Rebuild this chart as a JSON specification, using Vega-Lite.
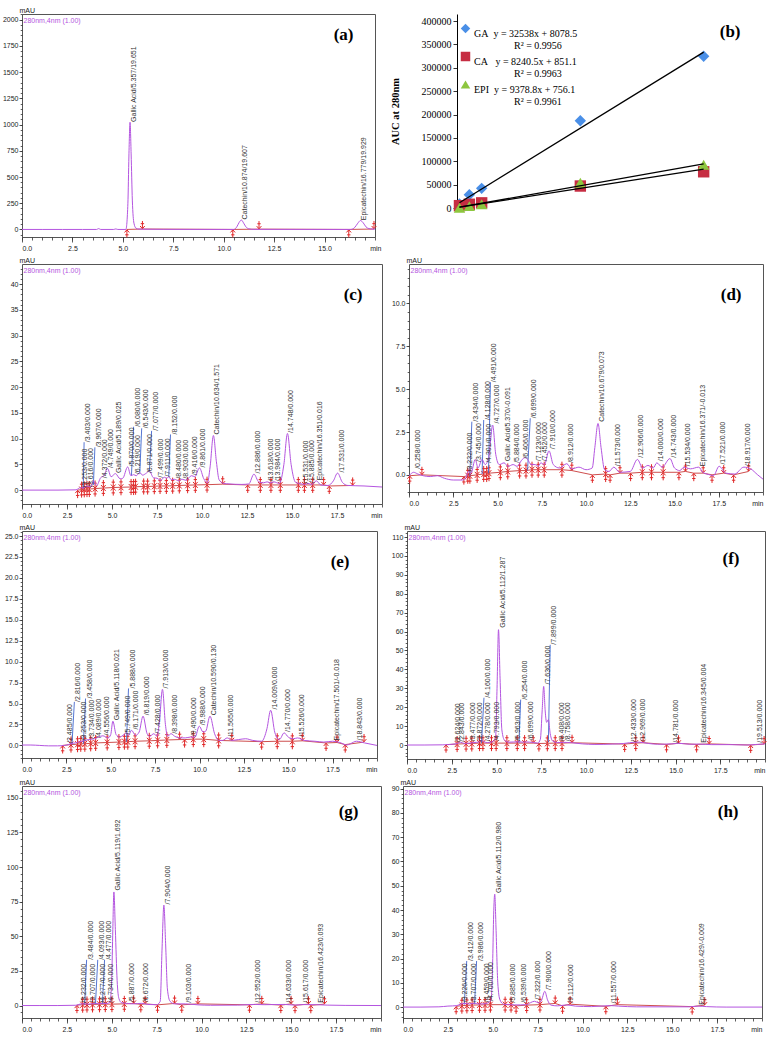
{
"$schema": "https://vega.github.io/schema/vega-lite/v6.json",
"background": "white",
"padding": {"left": 1, "top": 5, "right": 0, "bottom": 0},
"columns": 2,
"align": {"row": "each", "column": "none"},
"spacing": {"row": 3, "column": 5},
"resolve": {"scale": {"shape": "independent", "color": "independent"}, "legend": {"shape": "independent", "color": "independent"}},
"datasets": {
"sg_a": [{"t":0,"v":0},{"t":1,"v":0},{"t":2,"v":0},{"t":3,"v":0},{"t":3.7,"v":0},{"t":3.8,"v":8},{"t":3.9,"v":0},{"t":4.55,"v":0},{"t":4.65,"v":5},{"t":4.75,"v":0},{"t":5.15,"v":0},{"t":5.25,"v":250},{"t":5.3,"v":700},{"t":5.357,"v":1022},{"t":5.41,"v":720},{"t":5.47,"v":280},{"t":5.55,"v":60},{"t":5.65,"v":12},{"t":5.8,"v":3},{"t":7,"v":1},{"t":10.5,"v":0},{"t":10.65,"v":25},{"t":10.76,"v":65},{"t":10.874,"v":90},{"t":10.99,"v":60},{"t":11.1,"v":25},{"t":11.25,"v":6},{"t":11.5,"v":1},{"t":16.3,"v":0},{"t":16.5,"v":20},{"t":16.65,"v":60},{"t":16.779,"v":85},{"t":16.92,"v":62},{"t":17.05,"v":25},{"t":17.2,"v":8},{"t":17.35,"v":4},{"t":17.5,"v":3}],
"mk_a": [{"t":5.2,"v":0,"k":"s"},{"t":5.97,"v":4,"k":"e"},{"t":10.45,"v":0,"k":"s"},{"t":11.75,"v":3,"k":"e"},{"t":16.2,"v":0,"k":"s"},{"t":17.45,"v":4,"k":"e"}],
"lb_a": [{"lx":5.357,"ly":1025,"lab":"Gallic Acid/5.357/19.651"},{"lx":10.874,"ly":95,"lab":"Catechin/10.874/19.607"},{"lx":16.779,"ly":88,"lab":"Epicatechin/16.779/19.929"}],
"cal": [{"s":"GA","x":0.1,"y":8500},{"s":"GA","x":0.5,"y":28500},{"s":"GA","x":1,"y":42000},{"s":"GA","x":5,"y":186500},{"s":"GA","x":10,"y":324500},
{"s":"CA","x":0.1,"y":5000},{"s":"CA","x":0.5,"y":8000},{"s":"CA","x":1,"y":11000},{"s":"CA","x":5,"y":47000},{"s":"CA","x":10,"y":77500},
{"s":"EPI","x":0.1,"y":500},{"s":"EPI","x":0.5,"y":4000},{"s":"EPI","x":1,"y":8000},{"s":"EPI","x":5,"y":54000},{"s":"EPI","x":10,"y":92500}],
"trend": [{"s":"GA","x":0.1,"y":11332},{"s":"GA","x":10,"y":333458},{"s":"CA","x":0.1,"y":1675},{"s":"CA","x":10,"y":83256},{"s":"EPI","x":0.1,"y":1694},{"s":"EPI","x":10,"y":94544}],
"sg_c": [{"t":0,"v":0},{"t":1,"v":0},{"t":2,"v":0},{"t":3,"v":0.05},{"t":3.25,"v":0.5},{"t":3.4,"v":0.4},{"t":3.6,"v":0.8},{"t":3.8,"v":0.6},{"t":3.97,"v":1.8},{"t":4.15,"v":0.9},{"t":4.37,"v":2.4},{"t":4.55,"v":2.8},{"t":4.75,"v":4.2},{"t":4.95,"v":2.6},{"t":5.19,"v":3.2},{"t":5.45,"v":2.2},{"t":5.6,"v":2.3},{"t":5.87,"v":4.5},{"t":6.05,"v":2.8},{"t":6.2,"v":3.0},{"t":6.35,"v":2.8},{"t":6.54,"v":3.4},{"t":6.7,"v":2.9},{"t":6.87,"v":3.2},{"t":7.08,"v":3.7},{"t":7.3,"v":2.4},{"t":7.5,"v":2.3},{"t":7.7,"v":1.9},{"t":7.91,"v":2.5},{"t":8.05,"v":2.3},{"t":8.15,"v":2.6},{"t":8.3,"v":2.0},{"t":8.48,"v":2.1},{"t":8.7,"v":1.8},{"t":8.9,"v":2.1},{"t":9.1,"v":1.9},{"t":9.42,"v":2.8},{"t":9.6,"v":2.6},{"t":9.86,"v":4.3},{"t":10.1,"v":2.2},{"t":10.3,"v":1.4},{"t":10.45,"v":4.5},{"t":10.634,"v":10.6},{"t":10.8,"v":5.5},{"t":10.95,"v":2.0},{"t":11.2,"v":1.3},{"t":11.5,"v":1.2},{"t":12.2,"v":1.1},{"t":12.6,"v":1.2},{"t":12.886,"v":3.1},{"t":13.15,"v":1.6},{"t":13.4,"v":1.4},{"t":13.618,"v":1.6},{"t":13.8,"v":1.4},{"t":13.984,"v":1.6},{"t":14.3,"v":1.3},{"t":14.55,"v":5},{"t":14.748,"v":11.0},{"t":14.95,"v":5},{"t":15.2,"v":1.5},{"t":15.531,"v":1.2},{"t":15.7,"v":1.1},{"t":15.885,"v":1.3},{"t":16.1,"v":1.1},{"t":16.351,"v":1.8},{"t":16.6,"v":1.0},{"t":17.0,"v":0.9},{"t":17.3,"v":1.8},{"t":17.531,"v":3.3},{"t":17.8,"v":1.5},{"t":18.1,"v":0.9},{"t":19,"v":0.8},{"t":20,"v":0.6}],
"mk_c": [{"t":3.09,"v":0.0,"k":"s"},{"t":3.31,"v":0.1,"k":"b"},{"t":3.46,"v":0.15,"k":"b"},{"t":3.61,"v":0.2,"k":"b"},{"t":3.74,"v":0.2,"k":"b"},{"t":4.06,"v":0.3,"k":"b"},{"t":4.52,"v":0.4,"k":"b"},{"t":5.07,"v":0.5,"k":"b"},{"t":5.5,"v":0.55,"k":"b"},{"t":6.06,"v":0.6,"k":"b"},{"t":6.2,"v":0.6,"k":"b"},{"t":6.31,"v":0.65,"k":"b"},{"t":6.76,"v":0.7,"k":"b"},{"t":6.98,"v":0.7,"k":"b"},{"t":7.35,"v":0.75,"k":"b"},{"t":7.67,"v":0.8,"k":"b"},{"t":8.02,"v":0.8,"k":"b"},{"t":8.37,"v":0.85,"k":"b"},{"t":8.74,"v":0.9,"k":"b"},{"t":9.2,"v":0.95,"k":"b"},{"t":9.63,"v":1.0,"k":"b"},{"t":10.28,"v":1.05,"k":"b"},{"t":11.15,"v":1.15,"k":"e"},{"t":12.54,"v":1.0,"k":"s"},{"t":13.24,"v":1.0,"k":"b"},{"t":13.83,"v":1.0,"k":"b"},{"t":14.35,"v":1.0,"k":"b"},{"t":15.35,"v":1.0,"k":"b"},{"t":15.69,"v":1.0,"k":"b"},{"t":16.15,"v":1.0,"k":"b"},{"t":16.76,"v":1.0,"k":"e"},{"t":17.07,"v":0.8,"k":"s"},{"t":18.37,"v":0.9,"k":"e"}],
"lb_c": [{"lx":3.253,"ly":0.5,"lab":"/3.253/0.000"},{"rt":3.403,"b":0.3,"lx":3.45,"ly":9.3,"lab":"/3.403/0.000"},{"lx":3.616,"ly":0.6,"lab":"/3.616/0.000"},{"rt":3.967,"b":1.0,"lx":4.05,"ly":8.3,"lab":"/3.967/0.000"},{"lx":4.372,"ly":2.3,"lab":"/4.372/0.000"},{"lx":4.749,"ly":4.3,"lab":"/4.749/0.000"},{"lx":5.189,"ly":3.3,"lab":"Gallic Acid/5.189/0.025"},{"lx":5.87,"ly":4.6,"lab":"/5.870/0.000"},{"rt":6.08,"b":2.8,"lx":6.2,"ly":12.3,"lab":"/6.080/0.000"},{"lx":6.219,"ly":3.1,"lab":"/6.219/0.000"},{"rt":6.543,"b":3.3,"lx":6.65,"ly":12.0,"lab":"/6.543/0.000"},{"lx":6.871,"ly":3.3,"lab":"/6.871/0.000"},{"rt":7.077,"b":3.6,"lx":7.2,"ly":11.5,"lab":"/7.077/0.000"},{"lx":7.499,"ly":2.4,"lab":"/7.499/0.000"},{"lx":7.911,"ly":2.6,"lab":"/7.911/0.000"},{"rt":8.152,"b":2.6,"lx":8.25,"ly":10.8,"lab":"/8.152/0.000"},{"lx":8.48,"ly":2.2,"lab":"/8.480/0.000"},{"lx":8.903,"ly":2.2,"lab":"/8.903/0.000"},{"lx":9.416,"ly":2.9,"lab":"/9.416/0.000"},{"lx":9.861,"ly":4.4,"lab":"/9.861/0.000"},{"lx":10.634,"ly":10.8,"lab":"Catechin/10.634/1.571"},{"lx":12.886,"ly":3.2,"lab":"/12.886/0.000"},{"lx":13.618,"ly":1.7,"lab":"/13.618/0.000"},{"lx":13.984,"ly":1.7,"lab":"/13.984/0.000"},{"lx":14.748,"ly":11.1,"lab":"/14.748/0.000"},{"lx":15.531,"ly":1.3,"lab":"/15.531/0.000"},{"lx":15.885,"ly":1.4,"lab":"/15.885/0.000"},{"lx":16.351,"ly":1.9,"lab":"Epicatechin/16.351/0.016"},{"lx":17.531,"ly":3.4,"lab":"/17.531/0.000"}],
"sg_d": [{"t":0,"v":-0.05},{"t":0.1,"v":0.05},{"t":0.26,"v":0.15},{"t":0.5,"v":0.05},{"t":0.8,"v":-0.05},{"t":1.2,"v":-0.1},{"t":1.6,"v":-0.05},{"t":2.0,"v":-0.2},{"t":2.5,"v":-0.3},{"t":3.0,"v":-0.3},{"t":3.2,"v":-0.2},{"t":3.35,"v":0.2},{"t":3.5,"v":0.1},{"t":3.745,"v":0.9},{"t":3.9,"v":0.4},{"t":4.128,"v":0.9},{"t":4.3,"v":0.6},{"t":4.5,"v":1.0},{"t":4.727,"v":2.9},{"t":4.9,"v":1.2},{"t":5.1,"v":0.6},{"t":5.37,"v":0.7},{"t":5.6,"v":0.5},{"t":5.884,"v":0.6},{"t":6.1,"v":0.5},{"t":6.4,"v":0.9},{"t":6.55,"v":1.0},{"t":6.699,"v":0.9},{"t":6.9,"v":0.6},{"t":7.123,"v":0.6},{"t":7.3,"v":0.5},{"t":7.452,"v":0.7},{"t":7.65,"v":0.6},{"t":7.91,"v":1.4},{"t":8.15,"v":0.6},{"t":8.5,"v":0.4},{"t":8.912,"v":0.65},{"t":9.2,"v":0.35},{"t":9.6,"v":0.45},{"t":10.0,"v":0.3},{"t":10.35,"v":0.4},{"t":10.5,"v":1.6},{"t":10.679,"v":3.0},{"t":10.85,"v":1.6},{"t":11.05,"v":0.3},{"t":11.3,"v":0.2},{"t":11.573,"v":0.45},{"t":11.9,"v":0.15},{"t":12.5,"v":0.2},{"t":12.906,"v":0.9},{"t":13.2,"v":0.4},{"t":13.5,"v":0.55},{"t":13.8,"v":0.4},{"t":14.0,"v":0.7},{"t":14.3,"v":0.45},{"t":14.743,"v":0.95},{"t":15.0,"v":0.4},{"t":15.3,"v":0.25},{"t":15.534,"v":0.45},{"t":15.9,"v":0.35},{"t":16.371,"v":0.45},{"t":16.6,"v":0.15},{"t":17.0,"v":0.0},{"t":17.2,"v":-0.05},{"t":17.521,"v":0.5},{"t":17.9,"v":0.1},{"t":18.4,"v":0.05},{"t":18.917,"v":0.45},{"t":19.3,"v":0.35},{"t":19.7,"v":0.0},{"t":20,"v":-0.25}],
"mk_d": [{"t":0.04,"v":-0.05,"k":"s"},{"t":0.73,"v":0.0,"k":"e"},{"t":3.1,"v":-0.1,"k":"s"},{"t":3.32,"v":-0.05,"k":"b"},{"t":3.44,"v":-0.05,"k":"b"},{"t":3.85,"v":0.0,"k":"b"},{"t":4.22,"v":0.05,"k":"b"},{"t":4.39,"v":0.05,"k":"b"},{"t":4.52,"v":0.1,"k":"b"},{"t":5.16,"v":0.15,"k":"b"},{"t":5.58,"v":0.2,"k":"b"},{"t":6.25,"v":0.25,"k":"b"},{"t":6.61,"v":0.25,"k":"b"},{"t":6.95,"v":0.3,"k":"b"},{"t":7.3,"v":0.3,"k":"b"},{"t":7.64,"v":0.3,"k":"b"},{"t":8.64,"v":0.3,"k":"b"},{"t":9.2,"v":0.25,"k":"e"},{"t":10.36,"v":0.0,"k":"s"},{"t":11.11,"v":0.05,"k":"b"},{"t":11.36,"v":0.0,"k":"s"},{"t":11.92,"v":0.1,"k":"e"},{"t":12.52,"v":0.1,"k":"s"},{"t":13.18,"v":0.15,"k":"b"},{"t":13.7,"v":0.15,"k":"b"},{"t":14.36,"v":0.15,"k":"b"},{"t":15.25,"v":0.15,"k":"s"},{"t":15.62,"v":0.2,"k":"e"},{"t":16.09,"v":0.1,"k":"s"},{"t":16.62,"v":0.1,"k":"e"},{"t":17.12,"v":0.0,"k":"s"},{"t":17.78,"v":0.1,"k":"e"},{"t":18.34,"v":0.0,"k":"s"},{"t":19.19,"v":0.2,"k":"e"}],
"lb_d": [{"lx":0.258,"ly":0.35,"lab":"/0.258/0.000"},{"lx":3.232,"ly":0.2,"lab":"/3.232/0.000"},{"rt":3.434,"b":-0.1,"lx":3.55,"ly":3.1,"lab":"/3.434/0.000"},{"lx":3.745,"ly":0.75,"lab":"/3.745/0.000"},{"rt":4.128,"b":0.05,"lx":4.22,"ly":3.2,"lab":"/4.128/0.000"},{"lx":4.301,"ly":0.7,"lab":"/4.301/0.000"},{"rt":4.491,"b":0.1,"lx":4.6,"ly":5.4,"lab":"/4.491/0.000"},{"lx":4.727,"ly":3.0,"lab":"/4.727/0.000"},{"lx":5.37,"ly":0.8,"lab":"Gallic Acid/5.370/-0.091"},{"lx":5.884,"ly":0.7,"lab":"/5.884/0.000"},{"lx":6.406,"ly":0.95,"lab":"/6.406/0.000"},{"rt":6.699,"b":0.25,"lx":6.85,"ly":3.3,"lab":"/6.699/0.000"},{"lx":7.123,"ly":0.8,"lab":"/7.123/0.000"},{"lx":7.452,"ly":0.8,"lab":"/7.452/0.000"},{"lx":7.91,"ly":1.5,"lab":"/7.910/0.000"},{"lx":8.912,"ly":0.7,"lab":"/8.912/0.000"},{"lx":10.679,"ly":3.1,"lab":"Catechin/10.679/0.073"},{"lx":11.573,"ly":0.5,"lab":"/11.573/0.000"},{"lx":12.906,"ly":1.0,"lab":"/12.906/0.000"},{"lx":14.0,"ly":0.8,"lab":"/14.000/0.000"},{"lx":14.743,"ly":1.0,"lab":"/14.743/0.000"},{"lx":15.534,"ly":0.5,"lab":"/15.534/0.000"},{"lx":16.371,"ly":0.5,"lab":"Epicatechin/16.371/-0.013"},{"lx":17.521,"ly":0.6,"lab":"/17.521/0.000"},{"lx":18.917,"ly":0.5,"lab":"/18.917/0.000"}],
"sg_e": [{"t":0,"v":0.05},{"t":0.5,"v":0.05},{"t":1.0,"v":0.0},{"t":1.5,"v":-0.05},{"t":2.0,"v":-0.05},{"t":2.4,"v":0.0},{"t":2.6,"v":0.1},{"t":2.816,"v":0.25},{"t":3.0,"v":0.3},{"t":3.253,"v":0.45},{"t":3.458,"v":0.55},{"t":3.734,"v":0.7},{"t":4.089,"v":0.8},{"t":4.3,"v":1.0},{"t":4.556,"v":1.15},{"t":4.85,"v":0.9},{"t":5.0,"v":1.3},{"t":5.118,"v":2.9},{"t":5.3,"v":1.3},{"t":5.5,"v":1.0},{"t":5.749,"v":1.3},{"t":5.888,"v":1.5},{"t":6.0,"v":1.2},{"t":6.171,"v":1.8},{"t":6.4,"v":1.2},{"t":6.6,"v":1.6},{"t":6.819,"v":3.5},{"t":7.05,"v":1.4},{"t":7.2,"v":1.1},{"t":7.428,"v":1.4},{"t":7.6,"v":1.1},{"t":7.75,"v":3.0},{"t":7.913,"v":6.7},{"t":8.08,"v":2.5},{"t":8.2,"v":1.1},{"t":8.398,"v":1.4},{"t":8.6,"v":1.1},{"t":8.9,"v":0.9},{"t":9.2,"v":0.9},{"t":9.49,"v":1.0},{"t":9.75,"v":1.0},{"t":9.988,"v":2.3},{"t":10.2,"v":1.6},{"t":10.35,"v":1.7},{"t":10.59,"v":3.5},{"t":10.85,"v":1.4},{"t":11.1,"v":0.6},{"t":11.3,"v":0.6},{"t":11.565,"v":0.9},{"t":11.8,"v":0.6},{"t":12.2,"v":0.7},{"t":12.6,"v":0.8},{"t":13.0,"v":0.6},{"t":13.5,"v":0.5},{"t":13.8,"v":2.0},{"t":14.009,"v":4.2},{"t":14.25,"v":1.5},{"t":14.5,"v":0.7},{"t":14.77,"v":1.5},{"t":15.0,"v":1.0},{"t":15.3,"v":0.8},{"t":15.526,"v":0.9},{"t":15.9,"v":0.6},{"t":16.5,"v":0.5},{"t":17.0,"v":0.4},{"t":17.501,"v":0.5},{"t":17.9,"v":0.35},{"t":18.3,"v":0.05},{"t":18.5,"v":0.2},{"t":18.843,"v":0.5},{"t":19.3,"v":0.3},{"t":20,"v":0.0}],
"mk_e": [{"t":2.29,"v":0.0,"k":"s"},{"t":2.76,"v":0.1,"k":"b"},{"t":3.13,"v":0.15,"k":"b"},{"t":3.31,"v":0.2,"k":"b"},{"t":3.54,"v":0.2,"k":"b"},{"t":3.87,"v":0.25,"k":"b"},{"t":4.15,"v":0.3,"k":"b"},{"t":4.8,"v":0.35,"k":"b"},{"t":5.46,"v":0.4,"k":"b"},{"t":5.77,"v":0.45,"k":"b"},{"t":5.96,"v":0.45,"k":"b"},{"t":6.37,"v":0.5,"k":"b"},{"t":7.17,"v":0.55,"k":"b"},{"t":7.64,"v":0.6,"k":"b"},{"t":8.16,"v":0.65,"k":"b"},{"t":8.88,"v":0.7,"k":"e"},{"t":9.16,"v":0.7,"k":"s"},{"t":9.65,"v":0.75,"k":"b"},{"t":10.24,"v":0.75,"k":"b"},{"t":11.08,"v":0.6,"k":"b"},{"t":11.82,"v":0.55,"k":"e"},{"t":13.5,"v":0.45,"k":"s"},{"t":14.38,"v":0.5,"k":"b"},{"t":15.23,"v":0.5,"k":"b"},{"t":15.79,"v":0.55,"k":"e"},{"t":17.13,"v":0.3,"k":"s"},{"t":17.75,"v":0.35,"k":"e"},{"t":18.21,"v":0.1,"k":"s"},{"t":19.27,"v":0.4,"k":"e"}],
"lb_e": [{"lx":2.485,"ly":0.3,"lab":"/2.485/0.000"},{"rt":2.816,"b":0.1,"lx":2.95,"ly":5.2,"lab":"/2.816/0.000"},{"lx":3.253,"ly":0.6,"lab":"/3.253/0.000"},{"rt":3.458,"b":0.2,"lx":3.58,"ly":5.6,"lab":"/3.458/0.000"},{"lx":3.734,"ly":0.8,"lab":"/3.734/0.000"},{"lx":4.089,"ly":0.9,"lab":"/4.089/0.000"},{"lx":4.556,"ly":1.2,"lab":"/4.556/0.000"},{"lx":5.118,"ly":3.0,"lab":"Gallic Acid/5.118/0.021"},{"lx":5.749,"ly":1.3,"lab":"/5.749/0.000"},{"rt":5.888,"b":0.45,"lx":6.0,"ly":6.8,"lab":"/5.888/0.000"},{"lx":6.171,"ly":1.9,"lab":"/6.171/0.000"},{"lx":6.819,"ly":3.6,"lab":"/6.819/0.000"},{"lx":7.428,"ly":1.4,"lab":"/7.428/0.000"},{"lx":7.913,"ly":6.8,"lab":"/7.913/0.000"},{"lx":8.398,"ly":1.4,"lab":"/8.398/0.000"},{"lx":9.49,"ly":1.1,"lab":"/9.490/0.000"},{"lx":9.988,"ly":2.4,"lab":"/9.988/0.000"},{"lx":10.59,"ly":3.6,"lab":"Catechin/10.590/0.130"},{"lx":11.565,"ly":1.0,"lab":"/11.565/0.000"},{"lx":14.009,"ly":4.3,"lab":"/14.009/0.000"},{"lx":14.77,"ly":1.6,"lab":"/14.770/0.000"},{"lx":15.526,"ly":1.0,"lab":"/15.526/0.000"},{"lx":17.501,"ly":0.6,"lab":"Epicatechin/17.501/-0.018"},{"lx":18.843,"ly":0.6,"lab":"/18.843/0.000"}],
"sg_f": [{"t":0,"v":0},{"t":1,"v":0},{"t":2,"v":0.1},{"t":2.624,"v":0.5},{"t":2.843,"v":0.9},{"t":3.0,"v":1.5},{"t":3.2,"v":0.8},{"t":3.477,"v":1.0},{"t":3.872,"v":1.4},{"t":4.0,"v":1.5},{"t":4.16,"v":2.6},{"t":4.278,"v":1.8},{"t":4.5,"v":1.3},{"t":4.793,"v":1.8},{"t":4.95,"v":4},{"t":5.03,"v":30},{"t":5.112,"v":61},{"t":5.2,"v":35},{"t":5.3,"v":8},{"t":5.45,"v":2.5},{"t":5.7,"v":1.5},{"t":5.963,"v":1.6},{"t":6.254,"v":1.7},{"t":6.5,"v":1.5},{"t":6.699,"v":1.6},{"t":7.0,"v":1.4},{"t":7.3,"v":1.0},{"t":7.45,"v":3},{"t":7.55,"v":18},{"t":7.636,"v":31},{"t":7.72,"v":18},{"t":7.8,"v":12},{"t":7.899,"v":13.5},{"t":8.0,"v":6},{"t":8.15,"v":2},{"t":8.408,"v":1.3},{"t":8.758,"v":1.4},{"t":9.2,"v":1.2},{"t":9.8,"v":0.6},{"t":10.5,"v":0.3},{"t":11.5,"v":0.5},{"t":12.1,"v":0.8},{"t":12.433,"v":1.2},{"t":12.969,"v":1.5},{"t":13.5,"v":0.8},{"t":14.0,"v":0.4},{"t":14.781,"v":0.6},{"t":15.2,"v":0.9},{"t":15.8,"v":0.4},{"t":16.345,"v":0.5},{"t":17,"v":0.2},{"t":18,"v":0.2},{"t":19,"v":0.0},{"t":19.513,"v":0.3},{"t":20,"v":0.6}],
"mk_f": [{"t":2.18,"v":0.2,"k":"s"},{"t":2.8,"v":0.5,"k":"b"},{"t":3.3,"v":0.7,"k":"b"},{"t":3.62,"v":0.8,"k":"b"},{"t":4.05,"v":1.0,"k":"b"},{"t":4.24,"v":1.0,"k":"b"},{"t":4.72,"v":1.0,"k":"b"},{"t":4.98,"v":1.0,"k":"b"},{"t":5.58,"v":1.0,"k":"b"},{"t":6.16,"v":1.0,"k":"b"},{"t":6.57,"v":1.0,"k":"b"},{"t":7.05,"v":1.0,"k":"e"},{"t":7.37,"v":0.8,"k":"s"},{"t":7.84,"v":0.9,"k":"b"},{"t":8.28,"v":1.0,"k":"b"},{"t":8.66,"v":1.0,"k":"b"},{"t":9.22,"v":1.2,"k":"e"},{"t":12.16,"v":0.5,"k":"s"},{"t":12.78,"v":1.0,"k":"b"},{"t":13.19,"v":1.2,"k":"e"},{"t":14.5,"v":0.3,"k":"s"},{"t":15.17,"v":0.9,"k":"e"},{"t":16.18,"v":0.3,"k":"s"},{"t":16.88,"v":0.6,"k":"e"},{"t":19.2,"v":0.0,"k":"s"},{"t":19.95,"v":0.5,"k":"e"}],
"lb_f": [{"lx":2.624,"ly":1.5,"lab":"/2.624/0.000"},{"lx":2.843,"ly":1.7,"lab":"/2.843/0.000"},{"lx":3.477,"ly":2.0,"lab":"/3.477/0.000"},{"lx":3.872,"ly":2.0,"lab":"/3.872/0.000"},{"rt":4.16,"b":1.0,"lx":4.3,"ly":25,"lab":"/4.160/0.000"},{"lx":4.278,"ly":2.0,"lab":"/4.278/0.000"},{"lx":4.793,"ly":2.2,"lab":"/4.793/0.000"},{"lx":5.112,"ly":62,"lab":"Gallic Acid/5.112/1.287"},{"lx":5.963,"ly":2.2,"lab":"/5.963/0.000"},{"rt":6.254,"b":1.0,"lx":6.35,"ly":24,"lab":"/6.254/0.000"},{"lx":6.699,"ly":2.5,"lab":"/6.699/0.000"},{"lx":7.636,"ly":32,"lab":"/7.636/0.000"},{"rt":7.899,"b":1.5,"lx":8.0,"ly":53,"lab":"/7.899/0.000"},{"lx":8.408,"ly":2.0,"lab":"/8.408/0.000"},{"lx":8.758,"ly":2.0,"lab":"/8.758/0.000"},{"lx":12.433,"ly":1.6,"lab":"/12.433/0.000"},{"lx":12.969,"ly":1.8,"lab":"/12.969/0.000"},{"lx":14.781,"ly":1.2,"lab":"/14.781/0.000"},{"lx":16.345,"ly":1.2,"lab":"Epicatechin/16.345/0.004"},{"lx":19.513,"ly":1.2,"lab":"/19.513/0.000"}],
"sg_g": [{"t":0,"v":0},{"t":1,"v":0},{"t":2,"v":0},{"t":3.0,"v":0.2},{"t":3.232,"v":1.0},{"t":3.484,"v":1.3},{"t":3.707,"v":1.0},{"t":4.093,"v":1.5},{"t":4.277,"v":1.3},{"t":4.477,"v":1.5},{"t":4.734,"v":1.5},{"t":4.9,"v":2.5},{"t":5.0,"v":20},{"t":5.06,"v":55},{"t":5.119,"v":82},{"t":5.2,"v":55},{"t":5.3,"v":18},{"t":5.4,"v":5},{"t":5.55,"v":2},{"t":5.887,"v":1.5},{"t":6.2,"v":1.2},{"t":6.672,"v":1.6},{"t":7.0,"v":0.8},{"t":7.5,"v":0.6},{"t":7.7,"v":3},{"t":7.8,"v":40},{"t":7.904,"v":72.5},{"t":8.0,"v":45},{"t":8.1,"v":12},{"t":8.25,"v":3},{"t":8.5,"v":1.2},{"t":9.103,"v":1.2},{"t":9.8,"v":0.5},{"t":10.5,"v":0.2},{"t":12.0,"v":0.3},{"t":12.952,"v":0.8},{"t":13.5,"v":0.6},{"t":14.633,"v":0.8},{"t":15.2,"v":0.3},{"t":15.617,"v":0.7},{"t":16.423,"v":0.6},{"t":17.0,"v":0.3},{"t":18,"v":0.1},{"t":20,"v":0.0}],
"mk_g": [{"t":3.06,"v":0.3,"k":"s"},{"t":3.38,"v":0.6,"k":"b"},{"t":3.62,"v":0.7,"k":"b"},{"t":3.93,"v":0.8,"k":"b"},{"t":4.32,"v":0.9,"k":"b"},{"t":4.64,"v":1.0,"k":"b"},{"t":5.01,"v":1.0,"k":"b"},{"t":5.7,"v":1.2,"k":"b"},{"t":6.22,"v":1.5,"k":"e"},{"t":6.62,"v":0.8,"k":"s"},{"t":6.86,"v":1.2,"k":"e"},{"t":7.55,"v":0.5,"k":"s"},{"t":8.5,"v":1.5,"k":"e"},{"t":8.9,"v":0.5,"k":"s"},{"t":9.8,"v":1.2,"k":"e"},{"t":12.67,"v":0.5,"k":"s"},{"t":13.36,"v":1.2,"k":"e"},{"t":14.42,"v":0.3,"k":"s"},{"t":14.99,"v":1.2,"k":"e"},{"t":15.21,"v":0.2,"k":"s"},{"t":15.96,"v":1.0,"k":"e"},{"t":16.09,"v":0.2,"k":"s"},{"t":16.85,"v":1.0,"k":"e"}],
"lb_g": [{"lx":3.232,"ly":2,"lab":"/3.232/0.000"},{"rt":3.484,"b":0.7,"lx":3.6,"ly":33,"lab":"/3.484/0.000"},{"lx":3.707,"ly":2,"lab":"/3.707/0.000"},{"rt":4.093,"b":0.9,"lx":4.22,"ly":33,"lab":"/4.093/0.000"},{"lx":4.277,"ly":2,"lab":"/4.277/0.000"},{"rt":4.477,"b":1.0,"lx":4.6,"ly":33,"lab":"/4.477/0.000"},{"lx":4.734,"ly":2,"lab":"/4.734/0.000"},{"lx":5.119,"ly":83,"lab":"Gallic Acid/5.119/1.692"},{"lx":5.887,"ly":2.5,"lab":"/5.887/0.000"},{"lx":6.672,"ly":2.5,"lab":"/6.672/0.000"},{"lx":7.904,"ly":73,"lab":"/7.904/0.000"},{"lx":9.103,"ly":2,"lab":"/9.103/0.000"},{"lx":12.952,"ly":2,"lab":"/12.952/0.000"},{"lx":14.633,"ly":2,"lab":"/14.633/0.000"},{"lx":15.617,"ly":2,"lab":"/15.617/0.000"},{"lx":16.423,"ly":2,"lab":"Epicatechin/16.423/0.093"}],
"sg_h": [{"t":0,"v":0},{"t":1,"v":0},{"t":2,"v":0.1},{"t":2.5,"v":0.4},{"t":3.0,"v":0.6},{"t":3.226,"v":1.3},{"t":3.412,"v":1.5},{"t":3.707,"v":1.3},{"t":3.986,"v":1.6},{"t":4.2,"v":1.3},{"t":4.459,"v":1.3},{"t":4.7,"v":1.6},{"t":4.9,"v":3},{"t":5.0,"v":20},{"t":5.05,"v":38},{"t":5.112,"v":46.5},{"t":5.18,"v":33},{"t":5.28,"v":10},{"t":5.4,"v":3},{"t":5.6,"v":1.2},{"t":5.885,"v":1.0},{"t":6.2,"v":0.9},{"t":6.539,"v":0.9},{"t":6.9,"v":1.0},{"t":7.1,"v":1.8},{"t":7.322,"v":2.4},{"t":7.55,"v":1.8},{"t":7.7,"v":2.5},{"t":7.9,"v":6.5},{"t":8.05,"v":3},{"t":8.25,"v":0.8},{"t":8.6,"v":0.5},{"t":9.112,"v":0.9},{"t":9.6,"v":0.4},{"t":10.5,"v":0.2},{"t":11.557,"v":0.6},{"t":12.0,"v":0.4},{"t":13,"v":0.1},{"t":16.0,"v":0.1},{"t":16.429,"v":0.4},{"t":16.9,"v":0.2},{"t":18,"v":0.0},{"t":20,"v":0.0}],
"mk_h": [{"t":2.96,"v":0.3,"k":"s"},{"t":3.28,"v":0.6,"k":"b"},{"t":3.56,"v":0.7,"k":"b"},{"t":3.85,"v":0.8,"k":"b"},{"t":4.26,"v":0.9,"k":"b"},{"t":4.57,"v":0.9,"k":"b"},{"t":4.87,"v":1.0,"k":"b"},{"t":5.69,"v":1.0,"k":"b"},{"t":6.02,"v":1.0,"k":"b"},{"t":6.3,"v":0.5,"k":"s"},{"t":6.89,"v":0.8,"k":"b"},{"t":7.63,"v":1.0,"k":"b"},{"t":8.48,"v":1.5,"k":"e"},{"t":8.89,"v":0.5,"k":"s"},{"t":9.31,"v":1.2,"k":"e"},{"t":11.3,"v":0.3,"k":"s"},{"t":11.94,"v":1.0,"k":"e"},{"t":16.11,"v":0.2,"k":"s"},{"t":16.81,"v":0.8,"k":"e"}],
"lb_h": [{"lx":3.226,"ly":2,"lab":"/3.226/0.000"},{"rt":3.412,"b":1.0,"lx":3.55,"ly":19,"lab":"/3.412/0.000"},{"lx":3.707,"ly":2,"lab":"/3.707/0.000"},{"rt":3.986,"b":1.2,"lx":4.1,"ly":19,"lab":"/3.986/0.000"},{"lx":4.459,"ly":2,"lab":"/4.459/0.000"},{"lx":4.7,"ly":2.5,"lab":"/4.700/0.000"},{"lx":5.112,"ly":47,"lab":"Gallic Acid/5.112/0.980"},{"lx":5.885,"ly":1.8,"lab":"/5.885/0.000"},{"lx":6.539,"ly":1.8,"lab":"/6.539/0.000"},{"lx":7.322,"ly":3,"lab":"/7.322/0.000"},{"lx":7.9,"ly":7,"lab":"/7.900/0.000"},{"lx":9.112,"ly":1.8,"lab":"/9.112/0.000"},{"lx":11.557,"ly":1.5,"lab":"/11.557/0.000"},{"lx":16.429,"ly":1,"lab":"Epicatechin/16.429/-0.009"}]
},
"concat": [
{"width":353,"height":223,"resolve":{"axis":{"x":"independent","y":"independent"}},
"layer":[
{"data":{"name":"mk_a"},"mark":{"type":"line","color":"#c83a3a","strokeWidth":0.9},
"encoding":{"x":{"field":"t","type":"quantitative","scale":{"domain":[0,17.5],"nice":false,"zero":false},"axis":{"orient":"bottom","values":[0,0.5,1,1.5,2,2.5,3,3.5,4,4.5,5,5.5,6,6.5,7,7.5,8,8.5,9,9.5,10,10.5,11,11.5,12,12.5,13,13.5,14,14.5,15,15.5,16,16.5,17,17.5],"labels":false,"tickSize":3,"title":null}},
"y":{"field":"v","type":"quantitative","scale":{"domain":[-72,2054],"nice":false,"zero":false},"axis":{"orient":"left","values":[-50,0,50,100,150,200,250,300,350,400,450,500,550,600,650,700,750,800,850,900,950,1000,1050,1100,1150,1200,1250,1300,1350,1400,1450,1500,1550,1600,1650,1700,1750,1800,1850,1900,1950,2000,2050],"labels":false,"tickSize":1.8,"title":null}}}},
{"data":{"name":"mk_a"},"mark":{"type":"point","filled":false,"color":"#e02828","strokeWidth":1,"size":45,"opacity":1},
"encoding":{"x":{"field":"t","type":"quantitative","scale":{"domain":[0,17.5],"nice":false,"zero":false},"axis":null},"y":{"field":"v","type":"quantitative","scale":{"domain":[-72,2054],"nice":false,"zero":false},"axis":null},
"shape":{"field":"k","type":"nominal","scale":{"domain":["s","e","b"],"range":["M0,0.1L0,2.4M-0.7,0.9L0,0.1L0.7,0.9M-0.5,1.6L0.5,1.6","M0,-0.1L0,-2.4M-0.7,-0.9L0,-0.1L0.7,-0.9M-0.5,-1.6L0.5,-1.6","M0,0.1L0,2.4M-0.7,0.9L0,0.1L0.7,0.9M-0.5,1.6L0.5,1.6M0,-0.1L0,-2.4M-0.7,-0.9L0,-0.1L0.7,-0.9M-0.5,-1.6L0.5,-1.6"]},"legend":null}}},
{"data":{"name":"sg_a"},"mark":{"type":"line","color":"#b455e0","strokeWidth":1,"interpolate":"monotone"},
"encoding":{"x":{"field":"t","type":"quantitative","scale":{"domain":[0,17.5],"nice":false,"zero":false},"axis":{"orient":"bottom","values":[0,2.5,5,7.5,10,12.5,15],"format":".1f","tickSize":5,"labelPadding":2,"title":"min","titleX":359,"titleY":7,"titleAlign":"right","titleBaseline":"top"}},
"y":{"field":"v","type":"quantitative","scale":{"domain":[-72,2054],"nice":false,"zero":false},"axis":{"orient":"left","values":[0,250,500,750,1000,1250,1500,1750,2000],"format":"d","tickSize":3,"title":"mAU","titleAngle":0,"titleX":-3,"titleY":-1,"titleAlign":"left","titleBaseline":"bottom"}}}},
{"data":{"name":"lb_a"},"mark":{"type":"text","angle":270,"align":"left","baseline":"top","fontSize":7,"color":"#333"},
"encoding":{"x":{"field":"lx","type":"quantitative","scale":{"domain":[0,17.5],"nice":false,"zero":false},"axis":{"orient":"top","labels":false,"ticks":false,"domain":false,"title":"280nm,4nm (1.00)","titleX":1,"titleY":2,"titleAlign":"left","titleBaseline":"top","titleAngle":0,"titleColor":"#b455e0","titleFontSize":7}},
"y":{"field":"ly","type":"quantitative","scale":{"domain":[-72,2054],"nice":false,"zero":false},"axis":{"orient":"right","labels":false,"ticks":false,"domain":false,"title":"(a)","titleAngle":0,"titleX":-22,"titleY":25,"titleAlign":"right","titleBaseline":"alphabetic","titleFont":"Liberation Serif","titleFontSize":17,"titleFontWeight":"bold","titleColor":"#000"}},
"text":{"field":"lab"}}}
]},
{"width":296,"height":194,"view":{"stroke":null},"resolve":{"axis":{"y":"independent"}},
"layer":[
{"data":{"name":"cal"},"mark":{"type":"point","filled":true,"opacity":1,"size":130},
"encoding":{"x":{"field":"x","type":"quantitative","scale":{"domain":[0,12],"nice":false,"zero":false},"axis":{"values":[0,2,4,6,8,10,12],"format":"d","domain":true,"domainColor":"#000","domainWidth":1,"ticks":true,"tickColor":"#000","tickSize":4,"labelFont":"Liberation Serif","labelFontSize":10,"labelColor":"#000","labelPadding":2,"title":"Concentration µg/ml","titleFont":"Liberation Serif","titleFontSize":10.5,"titleFontWeight":"bold","titleColor":"#000","titlePadding":8}},
"y":{"field":"y","type":"quantitative","scale":{"domain":[0,415000],"nice":false,"zero":false},"axis":{"orient":"left","values":[0,50000,100000,150000,200000,250000,300000,350000,400000],"format":"d","domain":true,"domainColor":"#000","domainWidth":1,"ticks":true,"tickColor":"#000","tickSize":4,"labelFont":"Liberation Serif","labelFontSize":10,"labelColor":"#000","labelPadding":2,"title":"AUC at 280nm","titleFont":"Liberation Serif","titleFontSize":10.5,"titleFontWeight":"bold","titleColor":"#000","titlePadding":21}},
"color":{"field":"s","type":"nominal","scale":{"domain":["GA","CA","EPI"],"range":["#4a8fe7","#c62d42","#8dc63f"]},"legend":{"orient":"none","legendX":3,"legendY":9,"title":null,"padding":0,"labelFont":"Liberation Serif","labelFontSize":10,"labelColor":"#000","symbolSize":90,"rowPadding":0,"labelOffset":3,"labelBaseline":"top","labelLimit":0,"encode":{"labels":{"update":{"lineHeight":{"value":11}}}},"labelExpr":"datum.label == 'GA' ? ['GA\u00a0\u00a0y = 32538x + 8078.5', '\u200b\u00a0\u00a0\u00a0\u00a0\u00a0\u00a0\u00a0\u00a0\u00a0\u00a0\u00a0\u00a0\u00a0\u00a0\u00a0\u00a0R\u00b2 = 0.9956'] : datum.label == 'CA' ? ['CA\u00a0\u00a0\u00a0y = 8240.5x + 851.1', '\u200b\u00a0\u00a0\u00a0\u00a0\u00a0\u00a0\u00a0\u00a0\u00a0\u00a0\u00a0\u00a0\u00a0\u00a0\u00a0\u00a0R\u00b2 = 0.9963'] : ['EPI\u00a0\u00a0y = 9378.8x + 756.1', '\u200b\u00a0\u00a0\u00a0\u00a0\u00a0\u00a0\u00a0\u00a0\u00a0\u00a0\u00a0\u00a0\u00a0\u00a0\u00a0\u00a0R\u00b2 = 0.9961']"}},
"shape":{"field":"s","type":"nominal","scale":{"domain":["GA","CA","EPI"],"range":["diamond","square","triangle-up"]},"legend":{"orient":"none","legendX":3,"legendY":9,"title":null,"padding":0,"labelFont":"Liberation Serif","labelFontSize":10,"labelColor":"#000","symbolSize":90,"rowPadding":0,"labelOffset":3,"labelBaseline":"top","labelLimit":0,"encode":{"labels":{"update":{"lineHeight":{"value":11}}}},"labelExpr":"datum.label == 'GA' ? ['GA\u00a0\u00a0y = 32538x + 8078.5', '\u200b\u00a0\u00a0\u00a0\u00a0\u00a0\u00a0\u00a0\u00a0\u00a0\u00a0\u00a0\u00a0\u00a0\u00a0\u00a0\u00a0R\u00b2 = 0.9956'] : datum.label == 'CA' ? ['CA\u00a0\u00a0\u00a0y = 8240.5x + 851.1', '\u200b\u00a0\u00a0\u00a0\u00a0\u00a0\u00a0\u00a0\u00a0\u00a0\u00a0\u00a0\u00a0\u00a0\u00a0\u00a0\u00a0R\u00b2 = 0.9963'] : ['EPI\u00a0\u00a0y = 9378.8x + 756.1', '\u200b\u00a0\u00a0\u00a0\u00a0\u00a0\u00a0\u00a0\u00a0\u00a0\u00a0\u00a0\u00a0\u00a0\u00a0\u00a0\u00a0R\u00b2 = 0.9961']"}}}},
{"data":{"name":"trend"},"mark":{"type":"line","color":"#000","strokeWidth":1.3},
"encoding":{"x":{"field":"x","type":"quantitative","scale":{"domain":[0,12],"nice":false,"zero":false},"axis":null},
"y":{"field":"y","type":"quantitative","scale":{"domain":[0,415000],"nice":false,"zero":false},"axis":{"orient":"right","labels":false,"ticks":false,"domain":false,"title":"(b)","titleAngle":0,"titleX":-13,"titleY":22,"titleAlign":"right","titleBaseline":"alphabetic","titleFont":"Liberation Serif","titleFontSize":17,"titleFontWeight":"bold","titleColor":"#000"}},
"detail":{"field":"s","type":"nominal"}}}
]},
{"width":360,"height":240,"resolve":{"axis":{"x":"independent","y":"independent"}},
"layer":[
{"data":{"name":"mk_c"},"mark":{"type":"line","color":"#c83a3a","strokeWidth":0.9},
"encoding":{"x":{"field":"t","type":"quantitative","scale":{"domain":[0,20],"nice":false,"zero":false},"axis":{"orient":"bottom","values":[0,0.5,1,1.5,2,2.5,3,3.5,4,4.5,5,5.5,6,6.5,7,7.5,8,8.5,9,9.5,10,10.5,11,11.5,12,12.5,13,13.5,14,14.5,15,15.5,16,16.5,17,17.5,18,18.5,19,19.5,20],"labels":false,"tickSize":3,"title":null}},
"y":{"field":"v","type":"quantitative","scale":{"domain":[-2.7,43.9],"nice":false,"zero":false},"axis":{"orient":"left","values":[-2,-1,0,1,2,3,4,5,6,7,8,9,10,11,12,13,14,15,16,17,18,19,20,21,22,23,24,25,26,27,28,29,30,31,32,33,34,35,36,37,38,39,40,41,42,43],"labels":false,"tickSize":1.8,"title":null}}}},
{"data":{"name":"mk_c"},"mark":{"type":"point","filled":false,"color":"#e02828","strokeWidth":1,"size":45,"opacity":1},
"encoding":{"x":{"field":"t","type":"quantitative","scale":{"domain":[0,20],"nice":false,"zero":false},"axis":null},"y":{"field":"v","type":"quantitative","scale":{"domain":[-2.7,43.9],"nice":false,"zero":false},"axis":null},
"shape":{"field":"k","type":"nominal","scale":{"domain":["s","e","b"],"range":["M0,0.1L0,2.4M-0.7,0.9L0,0.1L0.7,0.9M-0.5,1.6L0.5,1.6","M0,-0.1L0,-2.4M-0.7,-0.9L0,-0.1L0.7,-0.9M-0.5,-1.6L0.5,-1.6","M0,0.1L0,2.4M-0.7,0.9L0,0.1L0.7,0.9M-0.5,1.6L0.5,1.6M0,-0.1L0,-2.4M-0.7,-0.9L0,-0.1L0.7,-0.9M-0.5,-1.6L0.5,-1.6"]},"legend":null}}},
{"data":{"name":"lb_c"},"transform":[{"filter":"isValid(datum.b)"}],"mark":{"type":"rule","color":"#4466cc","strokeWidth":0.9},
"encoding":{"x":{"field":"rt","type":"quantitative","scale":{"domain":[0,20],"nice":false,"zero":false},"axis":null},"y":{"field":"b","type":"quantitative","scale":{"domain":[-2.7,43.9],"nice":false,"zero":false},"axis":null},"x2":{"field":"lx"},"y2":{"field":"ly"}}},
{"data":{"name":"sg_c"},"mark":{"type":"line","color":"#b455e0","strokeWidth":1,"interpolate":"monotone"},
"encoding":{"x":{"field":"t","type":"quantitative","scale":{"domain":[0,20],"nice":false,"zero":false},"axis":{"orient":"bottom","values":[0,2.5,5,7.5,10,12.5,15,17.5],"format":".1f","tickSize":5,"labelPadding":2,"title":"min","titleX":360,"titleY":7,"titleAlign":"right","titleBaseline":"top"}},
"y":{"field":"v","type":"quantitative","scale":{"domain":[-2.7,43.9],"nice":false,"zero":false},"axis":{"orient":"left","values":[0,5,10,15,20,25,30,35,40],"format":"d","tickSize":3,"title":"mAU","titleAngle":0,"titleX":-3,"titleY":-1,"titleAlign":"left","titleBaseline":"bottom"}}}},
{"data":{"name":"lb_c"},"mark":{"type":"text","angle":270,"align":"left","baseline":"top","fontSize":7,"color":"#333"},
"encoding":{"x":{"field":"lx","type":"quantitative","scale":{"domain":[0,20],"nice":false,"zero":false},"axis":{"orient":"top","labels":false,"ticks":false,"domain":false,"title":"280nm,4nm (1.00)","titleX":1,"titleY":2,"titleAlign":"left","titleBaseline":"top","titleAngle":0,"titleColor":"#b455e0","titleFontSize":7}},
"y":{"field":"ly","type":"quantitative","scale":{"domain":[-2.7,43.9],"nice":false,"zero":false},"axis":{"orient":"right","labels":false,"ticks":false,"domain":false,"title":"(c)","titleAngle":0,"titleX":-20,"titleY":35,"titleAlign":"right","titleBaseline":"alphabetic","titleFont":"Liberation Serif","titleFontSize":17,"titleFontWeight":"bold","titleColor":"#000"}},
"text":{"field":"lab"}}}
]},
{"width":354,"height":228,"resolve":{"axis":{"x":"independent","y":"independent"}},
"layer":[
{"data":{"name":"mk_d"},"mark":{"type":"line","color":"#c83a3a","strokeWidth":0.9},
"encoding":{"x":{"field":"t","type":"quantitative","scale":{"domain":[0,20],"nice":false,"zero":false},"axis":{"orient":"bottom","values":[0,0.5,1,1.5,2,2.5,3,3.5,4,4.5,5,5.5,6,6.5,7,7.5,8,8.5,9,9.5,10,10.5,11,11.5,12,12.5,13,13.5,14,14.5,15,15.5,16,16.5,17,17.5,18,18.5,19,19.5,20],"labels":false,"tickSize":3,"title":null}},
"y":{"field":"v","type":"quantitative","scale":{"domain":[-1,12.3],"nice":false,"zero":false},"axis":{"orient":"left","values":[-1,-0.5,0,0.5,1,1.5,2,2.5,3,3.5,4,4.5,5,5.5,6,6.5,7,7.5,8,8.5,9,9.5,10,10.5,11,11.5,12],"labels":false,"tickSize":1.8,"title":null}}}},
{"data":{"name":"mk_d"},"mark":{"type":"point","filled":false,"color":"#e02828","strokeWidth":1,"size":45,"opacity":1},
"encoding":{"x":{"field":"t","type":"quantitative","scale":{"domain":[0,20],"nice":false,"zero":false},"axis":null},"y":{"field":"v","type":"quantitative","scale":{"domain":[-1,12.3],"nice":false,"zero":false},"axis":null},
"shape":{"field":"k","type":"nominal","scale":{"domain":["s","e","b"],"range":["M0,0.1L0,2.4M-0.7,0.9L0,0.1L0.7,0.9M-0.5,1.6L0.5,1.6","M0,-0.1L0,-2.4M-0.7,-0.9L0,-0.1L0.7,-0.9M-0.5,-1.6L0.5,-1.6","M0,0.1L0,2.4M-0.7,0.9L0,0.1L0.7,0.9M-0.5,1.6L0.5,1.6M0,-0.1L0,-2.4M-0.7,-0.9L0,-0.1L0.7,-0.9M-0.5,-1.6L0.5,-1.6"]},"legend":null}}},
{"data":{"name":"lb_d"},"transform":[{"filter":"isValid(datum.b)"}],"mark":{"type":"rule","color":"#4466cc","strokeWidth":0.9},
"encoding":{"x":{"field":"rt","type":"quantitative","scale":{"domain":[0,20],"nice":false,"zero":false},"axis":null},"y":{"field":"b","type":"quantitative","scale":{"domain":[-1,12.3],"nice":false,"zero":false},"axis":null},"x2":{"field":"lx"},"y2":{"field":"ly"}}},
{"data":{"name":"sg_d"},"mark":{"type":"line","color":"#b455e0","strokeWidth":1,"interpolate":"monotone"},
"encoding":{"x":{"field":"t","type":"quantitative","scale":{"domain":[0,20],"nice":false,"zero":false},"axis":{"orient":"bottom","values":[0,2.5,5,7.5,10,12.5,15,17.5],"format":".1f","tickSize":5,"labelPadding":2,"title":"min","titleX":354,"titleY":7,"titleAlign":"right","titleBaseline":"top"}},
"y":{"field":"v","type":"quantitative","scale":{"domain":[-1,12.3],"nice":false,"zero":false},"axis":{"orient":"left","values":[0,2.5,5,7.5,10],"format":".1f","tickSize":3,"title":"mAU","titleAngle":0,"titleX":-3,"titleY":-1,"titleAlign":"left","titleBaseline":"bottom"}}}},
{"data":{"name":"lb_d"},"mark":{"type":"text","angle":270,"align":"left","baseline":"top","fontSize":7,"color":"#333"},
"encoding":{"x":{"field":"lx","type":"quantitative","scale":{"domain":[0,20],"nice":false,"zero":false},"axis":{"orient":"top","labels":false,"ticks":false,"domain":false,"title":"280nm,4nm (1.00)","titleX":1,"titleY":2,"titleAlign":"left","titleBaseline":"top","titleAngle":0,"titleColor":"#b455e0","titleFontSize":7}},
"y":{"field":"ly","type":"quantitative","scale":{"domain":[-1,12.3],"nice":false,"zero":false},"axis":{"orient":"right","labels":false,"ticks":false,"domain":false,"title":"(d)","titleAngle":0,"titleX":-22,"titleY":35,"titleAlign":"right","titleBaseline":"alphabetic","titleFont":"Liberation Serif","titleFontSize":17,"titleFontWeight":"bold","titleColor":"#000"}},
"text":{"field":"lab"}}}
]},
{"width":355,"height":227,"resolve":{"axis":{"x":"independent","y":"independent"}},
"layer":[
{"data":{"name":"mk_e"},"mark":{"type":"line","color":"#c83a3a","strokeWidth":0.9},
"encoding":{"x":{"field":"t","type":"quantitative","scale":{"domain":[0,20],"nice":false,"zero":false},"axis":{"orient":"bottom","values":[0,0.5,1,1.5,2,2.5,3,3.5,4,4.5,5,5.5,6,6.5,7,7.5,8,8.5,9,9.5,10,10.5,11,11.5,12,12.5,13,13.5,14,14.5,15,15.5,16,16.5,17,17.5,18,18.5,19,19.5,20],"labels":false,"tickSize":3,"title":null}},
"y":{"field":"v","type":"quantitative","scale":{"domain":[-1.5,25.6],"nice":false,"zero":false},"axis":{"orient":"left","values":[-1.5,-1,-0.5,0,0.5,1,1.5,2,2.5,3,3.5,4,4.5,5,5.5,6,6.5,7,7.5,8,8.5,9,9.5,10,10.5,11,11.5,12,12.5,13,13.5,14,14.5,15,15.5,16,16.5,17,17.5,18,18.5,19,19.5,20,20.5,21,21.5,22,22.5,23,23.5,24,24.5,25,25.5],"labels":false,"tickSize":1.8,"title":null}}}},
{"data":{"name":"mk_e"},"mark":{"type":"point","filled":false,"color":"#e02828","strokeWidth":1,"size":45,"opacity":1},
"encoding":{"x":{"field":"t","type":"quantitative","scale":{"domain":[0,20],"nice":false,"zero":false},"axis":null},"y":{"field":"v","type":"quantitative","scale":{"domain":[-1.5,25.6],"nice":false,"zero":false},"axis":null},
"shape":{"field":"k","type":"nominal","scale":{"domain":["s","e","b"],"range":["M0,0.1L0,2.4M-0.7,0.9L0,0.1L0.7,0.9M-0.5,1.6L0.5,1.6","M0,-0.1L0,-2.4M-0.7,-0.9L0,-0.1L0.7,-0.9M-0.5,-1.6L0.5,-1.6","M0,0.1L0,2.4M-0.7,0.9L0,0.1L0.7,0.9M-0.5,1.6L0.5,1.6M0,-0.1L0,-2.4M-0.7,-0.9L0,-0.1L0.7,-0.9M-0.5,-1.6L0.5,-1.6"]},"legend":null}}},
{"data":{"name":"lb_e"},"transform":[{"filter":"isValid(datum.b)"}],"mark":{"type":"rule","color":"#4466cc","strokeWidth":0.9},
"encoding":{"x":{"field":"rt","type":"quantitative","scale":{"domain":[0,20],"nice":false,"zero":false},"axis":null},"y":{"field":"b","type":"quantitative","scale":{"domain":[-1.5,25.6],"nice":false,"zero":false},"axis":null},"x2":{"field":"lx"},"y2":{"field":"ly"}}},
{"data":{"name":"sg_e"},"mark":{"type":"line","color":"#b455e0","strokeWidth":1,"interpolate":"monotone"},
"encoding":{"x":{"field":"t","type":"quantitative","scale":{"domain":[0,20],"nice":false,"zero":false},"axis":{"orient":"bottom","values":[0,2.5,5,7.5,10,12.5,15,17.5],"format":".1f","tickSize":5,"labelPadding":2,"title":"min","titleX":355,"titleY":7,"titleAlign":"right","titleBaseline":"top"}},
"y":{"field":"v","type":"quantitative","scale":{"domain":[-1.5,25.6],"nice":false,"zero":false},"axis":{"orient":"left","values":[0,2.5,5,7.5,10,12.5,15,17.5,20,22.5,25],"format":".1f","tickSize":3,"title":"mAU","titleAngle":0,"titleX":-3,"titleY":-1,"titleAlign":"left","titleBaseline":"bottom"}}}},
{"data":{"name":"lb_e"},"mark":{"type":"text","angle":270,"align":"left","baseline":"top","fontSize":7,"color":"#333"},
"encoding":{"x":{"field":"lx","type":"quantitative","scale":{"domain":[0,20],"nice":false,"zero":false},"axis":{"orient":"top","labels":false,"ticks":false,"domain":false,"title":"280nm,4nm (1.00)","titleX":1,"titleY":2,"titleAlign":"left","titleBaseline":"top","titleAngle":0,"titleColor":"#b455e0","titleFontSize":7}},
"y":{"field":"ly","type":"quantitative","scale":{"domain":[-1.5,25.6],"nice":false,"zero":false},"axis":{"orient":"right","labels":false,"ticks":false,"domain":false,"title":"(e)","titleAngle":0,"titleX":-28,"titleY":35,"titleAlign":"right","titleBaseline":"alphabetic","titleFont":"Liberation Serif","titleFontSize":17,"titleFontWeight":"bold","titleColor":"#000"}},
"text":{"field":"lab"}}}
]},
{"width":358,"height":228,"resolve":{"axis":{"x":"independent","y":"independent"}},
"layer":[
{"data":{"name":"mk_f"},"mark":{"type":"line","color":"#c83a3a","strokeWidth":0.9},
"encoding":{"x":{"field":"t","type":"quantitative","scale":{"domain":[0,20],"nice":false,"zero":false},"axis":{"orient":"bottom","values":[0,0.5,1,1.5,2,2.5,3,3.5,4,4.5,5,5.5,6,6.5,7,7.5,8,8.5,9,9.5,10,10.5,11,11.5,12,12.5,13,13.5,14,14.5,15,15.5,16,16.5,17,17.5,18,18.5,19,19.5,20],"labels":false,"tickSize":3,"title":null}},
"y":{"field":"v","type":"quantitative","scale":{"domain":[-7.4,113.2],"nice":false,"zero":false},"axis":{"orient":"left","values":[-6,-4,-2,0,2,4,6,8,10,12,14,16,18,20,22,24,26,28,30,32,34,36,38,40,42,44,46,48,50,52,54,56,58,60,62,64,66,68,70,72,74,76,78,80,82,84,86,88,90,92,94,96,98,100,102,104,106,108,110,112],"labels":false,"tickSize":1.8,"title":null}}}},
{"data":{"name":"mk_f"},"mark":{"type":"point","filled":false,"color":"#e02828","strokeWidth":1,"size":45,"opacity":1},
"encoding":{"x":{"field":"t","type":"quantitative","scale":{"domain":[0,20],"nice":false,"zero":false},"axis":null},"y":{"field":"v","type":"quantitative","scale":{"domain":[-7.4,113.2],"nice":false,"zero":false},"axis":null},
"shape":{"field":"k","type":"nominal","scale":{"domain":["s","e","b"],"range":["M0,0.1L0,2.4M-0.7,0.9L0,0.1L0.7,0.9M-0.5,1.6L0.5,1.6","M0,-0.1L0,-2.4M-0.7,-0.9L0,-0.1L0.7,-0.9M-0.5,-1.6L0.5,-1.6","M0,0.1L0,2.4M-0.7,0.9L0,0.1L0.7,0.9M-0.5,1.6L0.5,1.6M0,-0.1L0,-2.4M-0.7,-0.9L0,-0.1L0.7,-0.9M-0.5,-1.6L0.5,-1.6"]},"legend":null}}},
{"data":{"name":"lb_f"},"transform":[{"filter":"isValid(datum.b)"}],"mark":{"type":"rule","color":"#4466cc","strokeWidth":0.9},
"encoding":{"x":{"field":"rt","type":"quantitative","scale":{"domain":[0,20],"nice":false,"zero":false},"axis":null},"y":{"field":"b","type":"quantitative","scale":{"domain":[-7.4,113.2],"nice":false,"zero":false},"axis":null},"x2":{"field":"lx"},"y2":{"field":"ly"}}},
{"data":{"name":"sg_f"},"mark":{"type":"line","color":"#b455e0","strokeWidth":1,"interpolate":"monotone"},
"encoding":{"x":{"field":"t","type":"quantitative","scale":{"domain":[0,20],"nice":false,"zero":false},"axis":{"orient":"bottom","values":[0,2.5,5,7.5,10,12.5,15,17.5],"format":".1f","tickSize":5,"labelPadding":2,"title":"min","titleX":358,"titleY":7,"titleAlign":"right","titleBaseline":"top"}},
"y":{"field":"v","type":"quantitative","scale":{"domain":[-7.4,113.2],"nice":false,"zero":false},"axis":{"orient":"left","values":[0,10,20,30,40,50,60,70,80,90,100,110],"format":"d","tickSize":3,"title":"mAU","titleAngle":0,"titleX":-3,"titleY":-1,"titleAlign":"left","titleBaseline":"bottom"}}}},
{"data":{"name":"lb_f"},"mark":{"type":"text","angle":270,"align":"left","baseline":"top","fontSize":7,"color":"#333"},
"encoding":{"x":{"field":"lx","type":"quantitative","scale":{"domain":[0,20],"nice":false,"zero":false},"axis":{"orient":"top","labels":false,"ticks":false,"domain":false,"title":"280nm,4nm (1.00)","titleX":1,"titleY":2,"titleAlign":"left","titleBaseline":"top","titleAngle":0,"titleColor":"#b455e0","titleFontSize":7}},
"y":{"field":"ly","type":"quantitative","scale":{"domain":[-7.4,113.2],"nice":false,"zero":false},"axis":{"orient":"right","labels":false,"ticks":false,"domain":false,"title":"(f)","titleAngle":0,"titleX":-26,"titleY":32,"titleAlign":"right","titleBaseline":"alphabetic","titleFont":"Liberation Serif","titleFontSize":17,"titleFontWeight":"bold","titleColor":"#000"}},
"text":{"field":"lab"}}}
]},
{"width":359,"height":232,"resolve":{"axis":{"x":"independent","y":"independent"}},
"layer":[
{"data":{"name":"mk_g"},"mark":{"type":"line","color":"#c83a3a","strokeWidth":0.9},
"encoding":{"x":{"field":"t","type":"quantitative","scale":{"domain":[0,20],"nice":false,"zero":false},"axis":{"orient":"bottom","values":[0,0.5,1,1.5,2,2.5,3,3.5,4,4.5,5,5.5,6,6.5,7,7.5,8,8.5,9,9.5,10,10.5,11,11.5,12,12.5,13,13.5,14,14.5,15,15.5,16,16.5,17,17.5,18,18.5,19,19.5,20],"labels":false,"tickSize":3,"title":null}},
"y":{"field":"v","type":"quantitative","scale":{"domain":[-9,158.5],"nice":false,"zero":false},"axis":{"orient":"left","values":[-5,0,5,10,15,20,25,30,35,40,45,50,55,60,65,70,75,80,85,90,95,100,105,110,115,120,125,130,135,140,145,150,155],"labels":false,"tickSize":1.8,"title":null}}}},
{"data":{"name":"mk_g"},"mark":{"type":"point","filled":false,"color":"#e02828","strokeWidth":1,"size":45,"opacity":1},
"encoding":{"x":{"field":"t","type":"quantitative","scale":{"domain":[0,20],"nice":false,"zero":false},"axis":null},"y":{"field":"v","type":"quantitative","scale":{"domain":[-9,158.5],"nice":false,"zero":false},"axis":null},
"shape":{"field":"k","type":"nominal","scale":{"domain":["s","e","b"],"range":["M0,0.1L0,2.4M-0.7,0.9L0,0.1L0.7,0.9M-0.5,1.6L0.5,1.6","M0,-0.1L0,-2.4M-0.7,-0.9L0,-0.1L0.7,-0.9M-0.5,-1.6L0.5,-1.6","M0,0.1L0,2.4M-0.7,0.9L0,0.1L0.7,0.9M-0.5,1.6L0.5,1.6M0,-0.1L0,-2.4M-0.7,-0.9L0,-0.1L0.7,-0.9M-0.5,-1.6L0.5,-1.6"]},"legend":null}}},
{"data":{"name":"lb_g"},"transform":[{"filter":"isValid(datum.b)"}],"mark":{"type":"rule","color":"#4466cc","strokeWidth":0.9},
"encoding":{"x":{"field":"rt","type":"quantitative","scale":{"domain":[0,20],"nice":false,"zero":false},"axis":null},"y":{"field":"b","type":"quantitative","scale":{"domain":[-9,158.5],"nice":false,"zero":false},"axis":null},"x2":{"field":"lx"},"y2":{"field":"ly"}}},
{"data":{"name":"sg_g"},"mark":{"type":"line","color":"#b455e0","strokeWidth":1,"interpolate":"monotone"},
"encoding":{"x":{"field":"t","type":"quantitative","scale":{"domain":[0,20],"nice":false,"zero":false},"axis":{"orient":"bottom","values":[0,2.5,5,7.5,10,12.5,15,17.5],"format":".1f","tickSize":5,"labelPadding":2,"title":"min","titleX":359,"titleY":7,"titleAlign":"right","titleBaseline":"top"}},
"y":{"field":"v","type":"quantitative","scale":{"domain":[-9,158.5],"nice":false,"zero":false},"axis":{"orient":"left","values":[0,25,50,75,100,125,150],"format":"d","tickSize":3,"title":"mAU","titleAngle":0,"titleX":-3,"titleY":-1,"titleAlign":"left","titleBaseline":"bottom"}}}},
{"data":{"name":"lb_g"},"mark":{"type":"text","angle":270,"align":"left","baseline":"top","fontSize":7,"color":"#333"},
"encoding":{"x":{"field":"lx","type":"quantitative","scale":{"domain":[0,20],"nice":false,"zero":false},"axis":{"orient":"top","labels":false,"ticks":false,"domain":false,"title":"280nm,4nm (1.00)","titleX":1,"titleY":2,"titleAlign":"left","titleBaseline":"top","titleAngle":0,"titleColor":"#b455e0","titleFontSize":7}},
"y":{"field":"ly","type":"quantitative","scale":{"domain":[-9,158.5],"nice":false,"zero":false},"axis":{"orient":"right","labels":false,"ticks":false,"domain":false,"title":"(g)","titleAngle":0,"titleX":-23,"titleY":30,"titleAlign":"right","titleBaseline":"alphabetic","titleFont":"Liberation Serif","titleFontSize":17,"titleFontWeight":"bold","titleColor":"#000"}},
"text":{"field":"lab"}}}
]},
{"width":359,"height":232,"resolve":{"axis":{"x":"independent","y":"independent"}},
"layer":[
{"data":{"name":"mk_h"},"mark":{"type":"line","color":"#c83a3a","strokeWidth":0.9},
"encoding":{"x":{"field":"t","type":"quantitative","scale":{"domain":[0,20],"nice":false,"zero":false},"axis":{"orient":"bottom","values":[0,0.5,1,1.5,2,2.5,3,3.5,4,4.5,5,5.5,6,6.5,7,7.5,8,8.5,9,9.5,10,10.5,11,11.5,12,12.5,13,13.5,14,14.5,15,15.5,16,16.5,17,17.5,18,18.5,19,19.5,20],"labels":false,"tickSize":3,"title":null}},
"y":{"field":"v","type":"quantitative","scale":{"domain":[-4.5,91.1],"nice":false,"zero":false},"axis":{"orient":"left","values":[-4,-2,0,2,4,6,8,10,12,14,16,18,20,22,24,26,28,30,32,34,36,38,40,42,44,46,48,50,52,54,56,58,60,62,64,66,68,70,72,74,76,78,80,82,84,86,88,90],"labels":false,"tickSize":1.8,"title":null}}}},
{"data":{"name":"mk_h"},"mark":{"type":"point","filled":false,"color":"#e02828","strokeWidth":1,"size":45,"opacity":1},
"encoding":{"x":{"field":"t","type":"quantitative","scale":{"domain":[0,20],"nice":false,"zero":false},"axis":null},"y":{"field":"v","type":"quantitative","scale":{"domain":[-4.5,91.1],"nice":false,"zero":false},"axis":null},
"shape":{"field":"k","type":"nominal","scale":{"domain":["s","e","b"],"range":["M0,0.1L0,2.4M-0.7,0.9L0,0.1L0.7,0.9M-0.5,1.6L0.5,1.6","M0,-0.1L0,-2.4M-0.7,-0.9L0,-0.1L0.7,-0.9M-0.5,-1.6L0.5,-1.6","M0,0.1L0,2.4M-0.7,0.9L0,0.1L0.7,0.9M-0.5,1.6L0.5,1.6M0,-0.1L0,-2.4M-0.7,-0.9L0,-0.1L0.7,-0.9M-0.5,-1.6L0.5,-1.6"]},"legend":null}}},
{"data":{"name":"lb_h"},"transform":[{"filter":"isValid(datum.b)"}],"mark":{"type":"rule","color":"#4466cc","strokeWidth":0.9},
"encoding":{"x":{"field":"rt","type":"quantitative","scale":{"domain":[0,20],"nice":false,"zero":false},"axis":null},"y":{"field":"b","type":"quantitative","scale":{"domain":[-4.5,91.1],"nice":false,"zero":false},"axis":null},"x2":{"field":"lx"},"y2":{"field":"ly"}}},
{"data":{"name":"sg_h"},"mark":{"type":"line","color":"#b455e0","strokeWidth":1,"interpolate":"monotone"},
"encoding":{"x":{"field":"t","type":"quantitative","scale":{"domain":[0,20],"nice":false,"zero":false},"axis":{"orient":"bottom","values":[0,2.5,5,7.5,10,12.5,15,17.5],"format":".1f","tickSize":5,"labelPadding":2,"title":"min","titleX":359,"titleY":7,"titleAlign":"right","titleBaseline":"top"}},
"y":{"field":"v","type":"quantitative","scale":{"domain":[-4.5,91.1],"nice":false,"zero":false},"axis":{"orient":"left","values":[0,10,20,30,40,50,60,70,80,90],"format":"d","tickSize":3,"title":"mAU","titleAngle":0,"titleX":-3,"titleY":-1,"titleAlign":"left","titleBaseline":"bottom"}}}},
{"data":{"name":"lb_h"},"mark":{"type":"text","angle":270,"align":"left","baseline":"top","fontSize":7,"color":"#333"},
"encoding":{"x":{"field":"lx","type":"quantitative","scale":{"domain":[0,20],"nice":false,"zero":false},"axis":{"orient":"top","labels":false,"ticks":false,"domain":false,"title":"280nm,4nm (1.00)","titleX":1,"titleY":2,"titleAlign":"left","titleBaseline":"top","titleAngle":0,"titleColor":"#b455e0","titleFontSize":7}},
"y":{"field":"ly","type":"quantitative","scale":{"domain":[-4.5,91.1],"nice":false,"zero":false},"axis":{"orient":"right","labels":false,"ticks":false,"domain":false,"title":"(h)","titleAngle":0,"titleX":-24,"titleY":30,"titleAlign":"right","titleBaseline":"alphabetic","titleFont":"Liberation Serif","titleFontSize":17,"titleFontWeight":"bold","titleColor":"#000"}},
"text":{"field":"lab"}}}
]}
],
"config": {
"font": "Liberation Sans",
"view": {"stroke": "#555", "strokeWidth": 1},
"axis": {"labelFont": "Liberation Sans", "labelFontSize": 7, "labelColor": "#222", "labelPadding": 1, "tickColor": "#333", "tickWidth": 0.8, "domain": false, "grid": false, "titleFont": "Liberation Sans", "titleFontSize": 7, "titleFontWeight": "normal", "titleColor": "#222"},
"text": {"font": "Liberation Sans"}
}
}
